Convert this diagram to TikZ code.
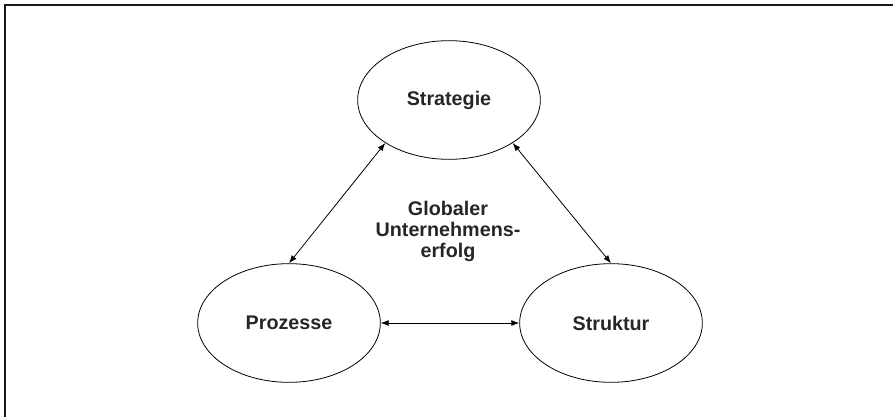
\documentclass[tikz,border=0pt]{standalone}
\usepackage{fontspec}
\setmainfont{Liberation Sans}
\usepackage{tikz}
\usetikzlibrary{shapes.geometric}
\usetikzlibrary{arrows.meta}
\usetikzlibrary{positioning}

\begin{document}
\begin{tikzpicture}[x=0.75pt,y=-0.75pt,
	oval/.style={draw,ellipse,line width=0.6pt,inner sep=0pt,minimum width=137pt,minimum height=89pt,font=\fontsize{14.8}{16}\selectfont\bfseries,text=black!85},
	pfeil/.style={{Latex[length=6pt,width=4.5pt]}-{Latex[length=6pt,width=4.5pt]},line width=0.6pt}]
	
	\useasboundingbox (0,0) rectangle (893,417);
	\draw [line width=1.5pt,black!90] (5,425) -- (5,5) -- (900,5);
	
	\node [oval] (strategie) at (449,100) {Strategie};
	\node [oval] (prozesse) at (289,323) {Prozesse};
	\node [oval] (struktur) at (611,323) {Struktur};
	
	\node [align=center,font=\fontsize{14.8}{15.75}\selectfont\bfseries,text=black!85] (erfolg) at (448,231) {Globaler\\Unternehmens-\\erfolg};
	
	\draw [pfeil] (strategie.214) -- (prozesse.north);
	\draw [pfeil] (strategie.326) -- (struktur.north);
	\draw [pfeil] (prozesse.east) -- (struktur.west);
	
\end{tikzpicture}
\end{document}
